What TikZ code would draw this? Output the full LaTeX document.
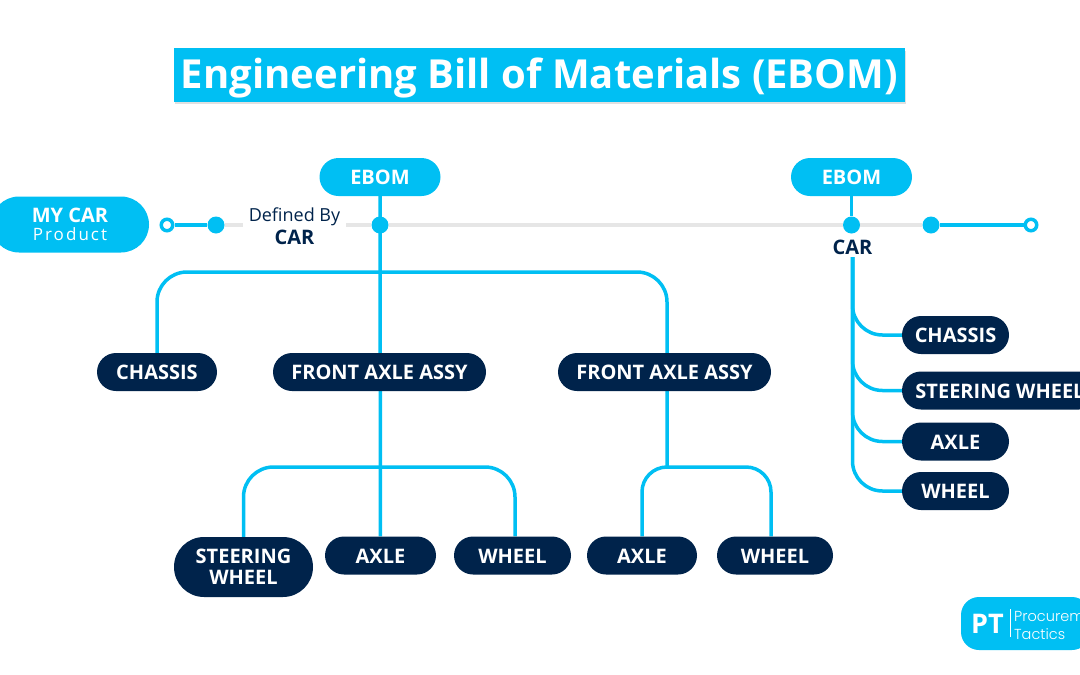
\documentclass[tikz,border=0pt]{standalone}
\usepackage{fontspec}
\setmainfont{Open Sans}
\newfontfamily\ptfont{Poppins Light}
\usetikzlibrary{backgrounds}
\definecolor{skyblue}{HTML}{00BFF3}
\definecolor{navyblue}{HTML}{00234B}
\definecolor{railgrey}{HTML}{E6E6E6}
\tikzset{
  pill/.style={rectangle,rounded corners=19pt,inner sep=0pt,minimum height=38pt,text=white,text height=15.5pt,text depth=0pt,font=\fontsize{20}{22}\selectfont\bfseries},
  skypill/.style={pill,fill=skyblue},
  navypill/.style={pill,fill=navyblue},
  wire/.style={draw=skyblue,line width=3.5pt},
  branch/.style={wire,rounded corners=30pt},
  rail/.style={draw=railgrey,line width=4pt},
  dot/.style={circle,fill=skyblue,inner sep=0pt,minimum size=17pt},
  ring/.style={circle,draw=skyblue,fill=white,line width=3.5pt,inner sep=0pt,minimum size=11.5pt},
  darklabel/.style={text=navyblue,inner sep=0pt,align=center}
}
\begin{document}
\begin{tikzpicture}[x=1pt,y=-1pt]
\useasboundingbox (0,0) rectangle (1080,675);
%-------->title<--------------
\fill[black!12] (175,51) rectangle (906,104);
\node[fill=skyblue,minimum width=731pt,minimum height=54pt,inner sep=0pt,text=white,text height=31pt,text depth=4pt,font=\fontsize{40}{46}\selectfont\bfseries] (title) at (539.5,75) {Engineering Bill of Materials (EBOM)};
%-------->top row<--------------
\node[fill=skyblue,rectangle,inner sep=0pt,text=white,font=\fontsize{20}{22}\selectfont\bfseries,minimum width=158pt,minimum height=56pt,rounded corners=28pt,align=center] (mycar) at (70,224.5) {MY CAR\\[-3.5pt]{\fontsize{17}{20}\selectfont\mdseries\addfontfeature{LetterSpace=12}Product}};
\node[skypill,minimum width=121pt] (ebomA) at (380,177) {EBOM};
\node[skypill,minimum width=121pt] (ebomB) at (851.5,177) {EBOM};
\node[ring] (ringA) at (167,225) {};
\node[dot] (dotA) at (216,225) {};
\node[darklabel,minimum width=103pt,font=\fontsize{18}{23}\selectfont] (defined) at (294.5,226) {Defined By\\{\fontsize{20}{23}\selectfont\bfseries CAR}};
\node[dot] (dotB) at (380,225) {};
\node[dot] (dotC) at (851.5,225) {};
\node[dot] (dotD) at (931,225) {};
\node[ring] (ringB) at (1031,225) {};
\node[darklabel,inner ysep=2pt,font=\fontsize{20}{22}\selectfont\bfseries] (carB) at (852.5,247.5) {CAR};
%-------->left tree<--------------
\node[navypill,minimum width=120pt] (chassisA) at (157,372) {CHASSIS};
\node[navypill,minimum width=213pt] (frontA) at (379.5,372) {FRONT AXLE ASSY};
\node[navypill,minimum width=213pt] (frontB) at (664.5,372) {FRONT AXLE ASSY};
\node[fill=navyblue,rectangle,inner sep=0pt,text=white,font=\fontsize{20}{22}\selectfont\bfseries,minimum width=139pt,minimum height=60pt,rounded corners=30pt,align=center] (steerA) at (243.5,567) {STEERING\\[-1pt]WHEEL};
\node[navypill,minimum width=111pt] (axleA) at (380.5,555.5) {AXLE};
\node[navypill,minimum width=117pt] (wheelA) at (512.5,555.5) {WHEEL};
\node[navypill,minimum width=110pt] (axleB) at (642,555.5) {AXLE};
\node[navypill,minimum width=116pt] (wheelB) at (775,555.5) {WHEEL};
%-------->right tree<--------------
\node[navypill,minimum width=107pt] (chassisB) at (955.5,335) {CHASSIS};
\node[navypill,minimum width=196pt] (steerB) at (1000,390.5) {STEERING WHEEL};
\node[navypill,minimum width=107pt] (axleC) at (955.5,441.5) {AXLE};
\node[navypill,minimum width=107pt] (wheelC) at (955.5,491) {WHEEL};
%-------->footer badge<--------------
\node[skypill,minimum width=129pt,minimum height=53pt,rounded corners=18pt] (badge) at (1025.5,623.5) {};
\node[inner sep=0pt,text=white,font=\fontsize{27}{28}\selectfont\bfseries] (ptmark) at (987.5,623.5) {PT};
\node[anchor=west,inner sep=0pt,text=white,font=\ptfont\fontsize{14.5}{18}\selectfont,align=left] (ptname) at (1014,625) {Procurement\\Tactics};
\draw[white,line width=.5pt] (1010,609) -- (1010,637);
%-------->connectors<--------------
\coordinate (joinA) at (380,272);
\coordinate (forkA) at (380,467);
\coordinate (forkB) at (667,467);
\coordinate (dropB) at ([xshift=-4pt]wheelB.north);
\begin{scope}[on background layer]
\draw[rail] (dotA) -- (defined.west |- dotA);
\draw[rail] (defined.east |- dotB) -- (dotB);
\draw[rail] (dotB) -- (dotC);
\draw[rail] (dotC) -- (dotD);
\draw[wire] (ringA) -- (dotA);
\draw[wire] (dotD) -- (ringB);
\draw[wire] (ebomA) -- (axleA);
\draw[wire] (ebomB) -- (dotC);
\draw[branch] (chassisA.north) |- (joinA) -| (forkB);
\draw[branch] (steerA.north) |- (forkA) -| ([xshift=2.5pt]wheelA.north);
\draw[branch,rounded corners=25pt] (axleB.north) |- (dropB |- forkB) -- (dropB);
\foreach \leaf in {chassisB,steerB,axleC,wheelC}
  \draw[branch] (carB.south) |- (\leaf.west);
\end{scope}
\end{tikzpicture}
\end{document}
